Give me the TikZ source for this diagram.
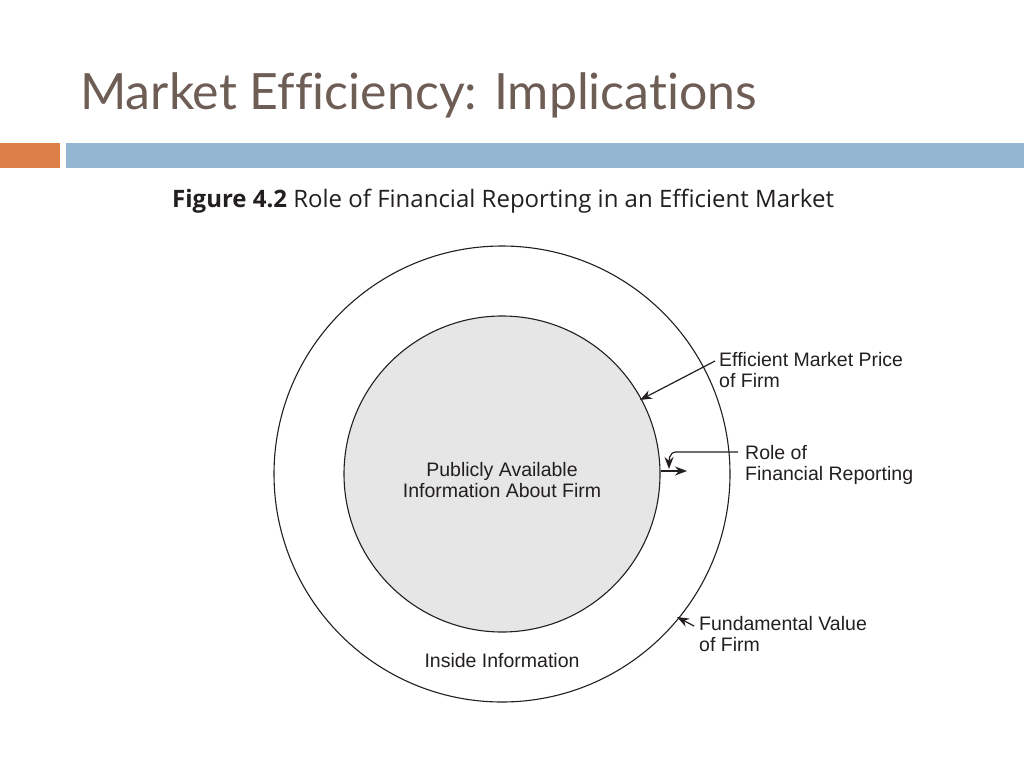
\documentclass[tikz,border=0pt]{standalone}
\usepackage{fontspec}
\setmainfont{Liberation Sans}
\newfontfamily\titlefont[Ligatures=NoCommon]{Lato}
\newfontfamily\capfont{Open Sans}
\usetikzlibrary{arrows.meta}
\definecolor{titlebrown}{HTML}{6E5D55}
\definecolor{barorange}{HTML}{DD8047}
\definecolor{barblue}{HTML}{94B6D2}
\definecolor{innergray}{HTML}{E6E6E6}
\definecolor{ink}{HTML}{231F20}
\tikzset{
  txt/.style={inner sep=0pt, text=ink, font=\fontsize{19.5}{21}\selectfont},
  lbl/.style={txt, anchor=base west, align=left},
  ring/.style={draw=ink, line width=1.1pt},
  ptr/.style={draw=ink, line width=1.2pt, -{Stealth[length=12pt,width=9pt]}}
}
\begin{document}
\begin{tikzpicture}[x=1pt,y=-1pt]
\useasboundingbox (0,0) rectangle (1024,768);
\fill[white] (0,0) rectangle (1024,768);
% title
\node[anchor=base west, inner sep=0pt, text=titlebrown, font=\titlefont\fontsize{50}{54}\selectfont] (title) at (80,109) {Market Efficiency: Implications};
% bars
\fill[barorange] (0,143) rectangle (60,168);
\fill[barblue] (66,143) rectangle (1024,168);
% caption
\node[anchor=base west, inner sep=0pt, text=ink, font=\capfont\fontsize{24}{26}\selectfont] (cap) at (172,207) {\textbf{Figure 4.2} Role of Financial Reporting in an Efficient Market};
% circles
\draw[ring] (502,474) circle[radius=228];
\draw[ring, fill=innergray] (502,474) circle[radius=158];
\node[txt, align=center, anchor=base] (pub) at (502,497) {Publicly Available\\Information About Firm};
\node[txt, anchor=base] (inside) at (502,667) {Inside Information};
% labels
\node[lbl] (emp) at (719,387) {Efficient Market Price\\of Firm};
\node[lbl] (rfr) at (745,480) {Role of\\Financial Reporting};
\node[lbl] (fvf) at (699,651) {Fundamental Value\\of Firm};
% arrows
\coordinate (empS) at (715,361);
\coordinate (empT) at (640,400);
\draw[ptr] (empS) -- (empT);
\coordinate (rfrS) at (738,452);
\coordinate (rfrT) at (669,469);
\draw[ptr] (rfrS) -- (676,452) to[out=180,in=90] (rfrT);
\coordinate (outS) at (661,471);
\coordinate (outT) at (687,471);
\draw[ptr] (outS) -- (outT);
\coordinate (fvfS) at (694,626);
\coordinate (fvfT) at (677,617);
\draw[ptr] (fvfS) -- (fvfT);
\end{tikzpicture}
\end{document}
